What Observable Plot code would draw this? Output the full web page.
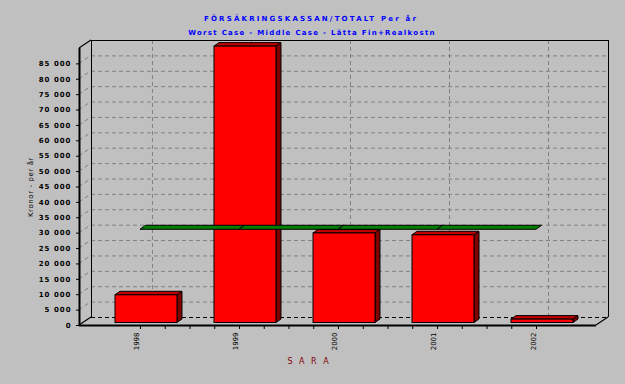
<!DOCTYPE html>
<html><head><meta charset="utf-8">
<script src="https://cdn.jsdelivr.net/npm/d3@7"></script>
<script src="https://cdn.jsdelivr.net/npm/@observablehq/plot@0.6"></script>
<style>
html,body{margin:0;padding:0;background:#c0c0c0;overflow:hidden;}
</style></head><body><div id="chart"></div>
<script>
// ---- data ----
const years = ["1998", "1999", "2000", "2001", "2002"];
const values = [9000, 89800, 29100, 28500, 1100];
const averageValue = 31100;
const yTicks = [0, 5000, 10000, 15000, 20000, 25000, 30000, 35000, 40000, 45000, 50000, 55000, 60000, 65000, 70000, 75000, 80000, 85000];
const xMinorTicks = [0, 0.25, 0.5, 0.75, 1, 1.25, 1.5, 1.75, 2, 2.25, 2.5, 2.75, 3, 3.25, 3.5, 3.75, 4];
const titleLine1 = "FÖRSÄKRINGSKASSAN/TOTALT Per år";
const titleLine2 = "Worst Case - Middle Case - Lätta Fin+Realkostn";
const yLabel = "Kronor - per år";
const xLabel = "S A R A";

// ---- layout / style ----
const W = 625, H = 384;
const xDomain = [-0.616, 4.606];
const yDomain = [0, 90000];
const wall = [12, -8];
const barShift = [6, -2.5];
const barDepth = [5, -3.5];
const ribbonDepth = [5.5, -4];
const barHalf = 0.313;
const grid = "#808080";
const dash = "4,3";

const bars = years.map((year, i) => ({i, year, value: values[i]}));
const fmt = d => d === 0 ? "0" : d3.format(",")(d).replace(/,/g, " ");
const pathOf = pts => "M" + pts.map(p => p.join(",")).join("L") + "Z";

const wallEdges = (index, {x, y}) => {
  const g = d3.create("svg:g");
  const x0 = x(xDomain[0]), x1 = x(xDomain[1]);
  for (const v of yTicks) {
    if (v === 0) continue;
    g.append("line").attr("x1", x0).attr("y1", y(v)).attr("x2", x0 + wall[0]).attr("y2", y(v) + wall[1])
      .attr("stroke", grid).attr("stroke-dasharray", dash);
  }
  const corners = [[x0, y(yDomain[1])], [x0, y(0)], [x1, y(0)]];
  for (const [cx, cy] of corners) {
    g.append("line").attr("x1", cx).attr("y1", cy).attr("x2", cx + wall[0]).attr("y2", cy + wall[1])
      .attr("stroke", "black").attr("stroke-width", 1.2);
  }
  return g.node();
};

const barFaces = (index, {x, y}) => {
  const g = d3.create("svg:g");
  const [ddx, ddy] = barDepth;
  for (const d of bars) {
    const xl = x(d.i - barHalf) + barShift[0], xr = x(d.i + barHalf) + barShift[0];
    const yb = y(0) + barShift[1], yt = y(d.value) + barShift[1];
    g.append("path").attr("d", pathOf([[xl, yt], [xr, yt], [xr + ddx, yt + ddy], [xl + ddx, yt + ddy]]))
      .attr("fill", "#c00000").attr("stroke", "black");
    g.append("path").attr("d", pathOf([[xr, yb], [xr, yt], [xr + ddx, yt + ddy], [xr + ddx, yb + ddy]]))
      .attr("fill", "#800000").attr("stroke", "black");
  }
  return g.node();
};

const ribbon = (index, {x, y}) => {
  const g = d3.create("svg:g");
  const [rdx, rdy] = ribbonDepth;
  const ya = y(averageValue);
  for (let i = 0; i < years.length - 1; i++) {
    const xa = x(i), xb = x(i + 1);
    g.append("path").attr("d", pathOf([[xa, ya], [xb, ya], [xb + rdx, ya + rdy], [xa + rdx, ya + rdy]]))
      .attr("fill", "#008000").attr("stroke", "black");
  }
  return g.node();
};

const chart = Plot.plot({
  width: W, height: H,
  marginLeft: 79, marginRight: 29, marginTop: 48, marginBottom: 59,
  style: {background: "#c0c0c0", fontFamily: "DejaVu Sans", fontSize: "7px", color: "black"},
  x: {type: "linear", domain: xDomain, ticks: xMinorTicks, tickSize: 4, tickFormat: () => "", label: null},
  y: {type: "linear", domain: yDomain, ticks: yTicks, tickSize: 3, tickFormat: () => "", label: null},
  marks: [
    // back wall grid
    Plot.ruleY(yTicks.filter(v => v > 0), {stroke: grid, strokeDasharray: dash, dx: wall[0], dy: wall[1]}),
    Plot.ruleX(bars, {x: "i", stroke: grid, strokeDasharray: dash, dx: wall[0], dy: wall[1]}),
    Plot.ruleY([0], {stroke: "black", strokeDasharray: dash, dx: wall[0], dy: wall[1]}),
    Plot.ruleY([yDomain[1]], {stroke: "black", dx: wall[0], dy: wall[1]}),
    Plot.ruleX(xDomain, {stroke: "black", dx: wall[0], dy: wall[1]}),
    wallEdges,
    // bars
    barFaces,
    Plot.rect(bars, {x1: d => d.i - barHalf, x2: d => d.i + barHalf, y1: () => 0, y2: "value",
      fill: "#ff0000", stroke: "black", dx: barShift[0], dy: barShift[1]}),
    ribbon,
    // front axes
    Plot.ruleY([0], {stroke: "black", strokeWidth: 2}),
    Plot.ruleX([xDomain[0]], {stroke: "black", strokeWidth: 2}),
    // labels
    Plot.text(yTicks, {y: d => d, text: d => fmt(d), frameAnchor: "left", textAnchor: "end", dx: -8,
      fontWeight: "bold"}),
    Plot.text(bars, {x: "i", text: "year", frameAnchor: "bottom", rotate: -90, textAnchor: "end", dy: 7, dx: -1}),
    Plot.text([yLabel], {frameAnchor: "left", textAnchor: "middle", rotate: -90, dx: -49}),
    Plot.text([titleLine1], {frameAnchor: "top", textAnchor: "middle", lineAnchor: "middle", dy: -30, dx: -27,
      fill: "#0000ff", fontSize: 7, fontWeight: "bold"}),
    Plot.text([titleLine2], {frameAnchor: "top", textAnchor: "middle", lineAnchor: "middle", dy: -16, dx: -26,
      fill: "#0000ff", fontSize: 7, fontWeight: "bold"}),
    Plot.text([xLabel], {frameAnchor: "bottom", textAnchor: "middle", lineAnchor: "middle", dy: 36, dx: -29,
      fill: "#800000", fontSize: 8})
  ]
});
// letter spacing (style only), matched by text content
const tickLabelSet = new Set(yTicks.map(fmt));
const spacing = t => t === titleLine1 ? "2.2px" : t === titleLine2 ? "1.3px" : t === xLabel ? "2px"
  : t === yLabel ? "0.6px" : tickLabelSet.has(t) ? "1px" : null;
d3.select(chart).selectAll("text").each(function () {
  const s = spacing(this.textContent);
  if (s) d3.select(this).style("letter-spacing", s);
});
document.getElementById("chart").appendChild(chart);
</script>
</body></html>
